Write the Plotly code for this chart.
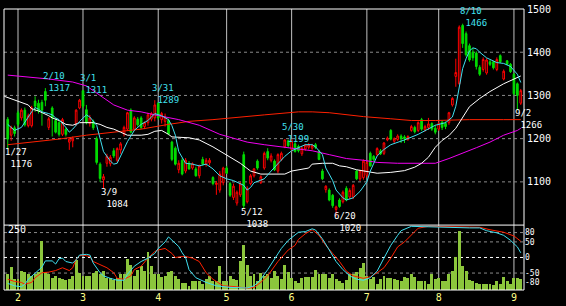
import plotly.graph_objects as go

# ---------------- data ----------------
opens = [1245,1208,1225,1260,1248,1266,1230,1230,1287,1282,1284,1309,1226,1271,1242,1237,1210,1222,1192,1195,1233,1271,1311,
         1267,1235,1240,1200,1141,1105,1143,1142,1172,1150,1174,1211,1222,1266,1222,1245,1248,1228,1237,1245,1248,
         1282,1244,1240,1242,1192,1178,1128,1150,1125,1143,1132,1130,1114,1152,1141,1144,1110,1094,1081,1098,
         1132,1096,1064,1051,1070,1163,1054,1096,1114,1148,1098,1132,1170,1150,1148,1125,1152,1181,1195,
         1175,1188,1182,1165,1176,1180,1178,1186,1170,1125,1082,1081,1069,1036,1058,1054,1085,1065,1065,1125,1107,1110,
         1115,1166,1159,1163,1172,1166,1197,1219,1194,1198,1206,1204,1198,1219,1226,1219,1244,1220,1226,1235,1224,
         1222,1238,1235,1237,1278,1344,1327,1462,1443,1415,1400,1398,1365,1360,1352,1378,1378,1360,1392,1338,1380,1372,
         1349,1327,1282]
highs = [1250,1230,1230,1265,1270,1272,1258,1276,1298,1290,1290,1317,1250,1275,1248,1240,1248,1226,1203,1205,1268,1292,1311,
         1278,1255,1244,1205,1145,1118,1165,1162,1178,1180,1192,1230,1262,1270,1252,1250,1252,1240,1260,1262,1289,
         1285,1262,1258,1246,1195,1182,1150,1155,1155,1148,1145,1135,1140,1158,1155,1155,1113,1102,1125,1135,
         1137,1100,1096,1080,1100,1170,1090,1118,1132,1152,1115,1170,1178,1166,1152,1166,1170,1199,1198,
         1199,1192,1186,1182,1188,1190,1188,1190,1174,1130,1092,1085,1072,1045,1062,1080,1090,1085,1095,1128,1128,1152,
         1150,1170,1162,1180,1176,1192,1205,1222,1203,1210,1210,1208,1208,1232,1230,1240,1248,1232,1248,1238,1232,
         1240,1242,1240,1262,1296,1385,1462,1466,1448,1420,1410,1402,1370,1388,1386,1382,1380,1388,1395,1360,1382,1375,
         1352,1330,1315]
lows = [1176,1195,1205,1228,1242,1228,1226,1226,1262,1258,1230,1275,1220,1205,1212,1205,1206,1205,1174,1180,1230,1268,1270,
        1233,1228,1220,1140,1100,1084,1135,1136,1155,1145,1165,1205,1218,1212,1218,1228,1222,1222,1230,1240,1240,
        1244,1235,1228,1208,1148,1138,1120,1115,1120,1128,1128,1112,1108,1138,1135,1138,1092,1070,1075,1092,
        1118,1065,1058,1045,1065,1038,1050,1092,1110,1128,1095,1128,1150,1145,1125,1120,1148,1178,1180,
        1170,1168,1168,1160,1172,1175,1174,1176,1150,1104,1075,1055,1040,1020,1040,1050,1055,1060,1060,1104,1102,1105,
        1110,1135,1148,1160,1162,1162,1194,1196,1190,1195,1190,1190,1195,1216,1212,1215,1218,1216,1220,1218,1210,
        1218,1220,1222,1232,1274,1320,1325,1410,1390,1378,1380,1360,1345,1355,1348,1368,1360,1356,1375,1335,1370,1352,
        1300,1266,1278]
closes = [1199,1226,1212,1233,1266,1232,1253,1271,1275,1264,1266,1289,1246,1248,1215,1210,1244,1210,1199,1201,1266,1289,1275,
          1237,1248,1225,1145,1108,1112,1159,1157,1160,1177,1188,1226,1260,1215,1248,1232,1226,1237,1255,1258,1278,
          1248,1258,1250,1211,1152,1141,1143,1118,1150,1130,1142,1114,1137,1141,1150,1150,1096,1097,1118,1132,
          1120,1069,1090,1076,1095,1045,1085,1114,1130,1132,1112,1166,1155,1160,1128,1163,1166,1197,1184,
          1195,1170,1172,1178,1185,1186,1184,1180,1152,1107,1090,1058,1045,1042,1043,1076,1058,1080,1092,1107,1125,1148,
          1145,1137,1152,1177,1165,1190,1201,1199,1200,1206,1200,1200,1205,1228,1216,1237,1222,1228,1234,1222,1215,
          1235,1226,1228,1260,1293,1353,1458,1420,1394,1382,1387,1367,1349,1383,1382,1372,1364,1383,1378,1356,1372,1355,
          1304,1300,1311]
volume = [68,96,45,45,79,75,68,60,66,77,
          206,77,68,52,59,52,45,41,45,59,
          127,72,59,59,59,70,79,66,79,52,
          52,41,52,66,66,130,104,59,86,100,
          79,158,100,66,66,56,59,77,79,59,
          45,31,31,18,36,36,36,27,45,59,
          38,38,100,36,38,59,45,41,123,189,
          104,59,68,36,72,59,66,52,79,59,
          45,104,77,52,38,31,49,55,55,55,
          82,66,66,66,52,66,45,38,31,41,
          66,66,77,93,113,59,45,55,25,45,
          59,52,49,45,41,38,55,52,66,55,
          36,36,36,25,66,45,52,38,36,68,
          79,137,250,100,79,41,36,31,25,27,
          25,27,22,36,25,55,36,25,49,49,45]

# moving averages (index, price)
ma_short_x = [0,2,4,5,6,7,8,9,10,12,13,14,15,17,18,19,20,21,23,24,26,27,28,30,31,32,33,35,37,39,41,43,45,47,48,49,50,52,
              54,56,58,60,62,64,66,68,69,70,71,72,74,75,77,79,81,83,85,87,89,90,92,93,95,96,98,99,101,103,105,106,108,
              110,112,116,120,124,125,128,130,131,132,133,134,135,136,137,138,140,143,145,147,149,150]
ma_short = [1233,1219,1226,1237,1250,1262,1272,1268,1262,1258,1255,1248,1244,1226,1215,1222,1231,1240,1255,1250,1231,1199,
            1170,1148,1141,1143,1159,1193,1219,1233,1242,1258,1253,1244,1230,1208,1170,1143,1141,1137,1141,1130,1114,1107,
            1103,1096,1092,1081,1087,1098,1103,1107,1125,1143,1159,1172,1179,1186,1186,1181,1163,1132,1103,1081,1063,1058,
            1063,1078,1100,1125,1160,1175,1186,1197,1210,1226,1231,1237,1250,1275,1320,1362,1385,1403,1410,1408,1400,1387,
            1376,1374,1367,1349,1330]
ma_mid_x = [-1,0,3,6,7,9,12,13,15,17,19,21,25,27,29,31,33,35,39,41,43,45,47,48,53,56,60,64,68,71,74,81,83,88,89,92,95,97,
            99,102,105,108,112,116,119,121,123,125,127,129,131,133,135,138,141,145,148,150]
ma_mid = [1298,1295,1286,1278,1269,1264,1253,1248,1242,1233,1231,1237,1237,1233,1226,1222,1215,1208,1208,1210,1217,1219,1210,
          1204,1202,1197,1181,1163,1143,1125,1118,1118,1125,1132,1141,1143,1143,1137,1135,1128,1124,1120,1122,1126,1134,1143,
          1157,1180,1196,1207,1224,1250,1274,1293,1309,1327,1338,1345]
ma_long_x = [0,6,12,19,23,27,31,35,39,43,47,50,56,62,66,70,75,80,85,89,94,99,104,108,114,125,129,133,137,141,145,149,150]
ma_long = [1347,1343,1338,1331,1322,1300,1278,1266,1262,1255,1248,1244,1231,1210,1201,1192,1186,1181,1177,1172,1163,1154,
           1150,1145,1143,1143,1154,1166,1179,1192,1208,1219,1224]
ma_slow_x = [0,7,15,23,31,39,47,53,60,65,75,85,89,94,99,104,112,118,125,135,145,150]
ma_slow = [1186,1192,1199,1208,1215,1222,1233,1240,1244,1248,1255,1262,1262,1260,1255,1251,1246,1242,1242,1244,1244,1244]

# oscillator lines in lower panel (index, value)
osc_a_x = [0,2,4,5,6,8,10,11,13,14,15,16,17,19,20,21,23,24,25,27,28,30,32,34,35,37,39,41,43,44,46,47,48,50,51,52,53,55,
           58,61,65,70,72,74,76,78,80,82,84,85,87,89,90,92,94,96,98,100,102,104,106,108,110,112,114,115,118,125,135,138,
           140,143,145,147,149,150]
osc_a = [-83,-91,-94,-86,-70,-49,-31,-11,-11,-21,-4,-2,-13,-18,-7,8,10,8,-18,-49,-59,-67,-73,-73,-54,-28,-13,-2,13,29,50,
         66,55,35,15,0,-39,-65,-80,-91,-96,-98,-91,-70,-39,-7,29,55,71,81,83,92,88,60,24,-13,-39,-59,-70,-73,-65,-44,-2,
         39,71,86,100,97,95,95,86,79,71,55,34,15]
osc_b_x = [0,2,4,5,7,8,10,12,14,16,18,19,20,21,22,24,25,27,29,31,32,34,36,37,39,41,43,44,46,48,49,51,52,54,56,58,60,63,
           67,70,72,74,76,79,82,84,85,87,89,91,93,95,97,99,101,104,106,108,110,112,114,116,118,120,123,138,141,145,148,150]
osc_b = [-70,-77,-80,-86,-80,-65,-49,-47,-42,-33,-42,-33,-5,5,8,3,-13,-23,-33,-49,-67,-70,-59,-39,-28,-2,19,24,29,13,0,3,
         3,-2,-13,-49,-70,-91,-94,-99,-96,-80,-59,-13,24,39,58,76,89,71,39,13,-13,-44,-59,-67,-62,-49,-33,-2,34,50,71,94,
         100,97,89,81,69,52]

month_idx = [3, 22, 44, 64, 83, 105, 126, 148]
month_lbl = ['2', '3', '4', '5', '6', '7', '8', '9']
price_ticks = [1100, 1200, 1300, 1400, 1500]
osc_ticks = [80, 50, 0, -50, -80]
vol_label = 250

# extreme-point labels: index, price, date, kind
ext_idx = [0, 11, 22, 28, 43, 69, 81, 96, 133, 149]
ext_price = [1176, 1317, 1311, 1084, 1289, 1038, 1199, 1020, 1466, 1266]
ext_date = ['1/27', '2/10', '3/1', '3/9', '3/31', '5/12', '5/30', '6/20', '8/10', '9/2']
ext_kind = ['low', 'high', 'high', 'low', 'high', 'low', 'high', 'low', 'high', 'low']

# ---------------- figure ----------------
N = len(closes)
idx = list(range(N))
FONT = 'DejaVu Sans Mono'
CYAN = '#40e0f0'
D = 67 / 290.0

fig = go.Figure()

fig.add_trace(go.Bar(x=idx, y=volume, width=0.86, marker=dict(color='#8cc63c', line=dict(width=0)),
                     xaxis='x', yaxis='y2', hoverinfo='skip'))
fig.add_trace(go.Scatter(x=osc_b_x, y=osc_b, mode='lines', line=dict(color='#ff2000', width=1),
                         xaxis='x', yaxis='y3', hoverinfo='skip'))
fig.add_trace(go.Scatter(x=osc_a_x, y=osc_a, mode='lines', line=dict(color=CYAN, width=1),
                         xaxis='x', yaxis='y3', hoverinfo='skip'))

for xs, ys, col in [(ma_slow_x, ma_slow, '#ff2000'), (ma_long_x, ma_long, '#f000f0'),
                    (ma_mid_x, ma_mid, '#ffffff'), (ma_short_x, ma_short, CYAN)]:
    fig.add_trace(go.Scatter(x=xs, y=ys, mode='lines', line=dict(color=col, width=1),
                             xaxis='x', yaxis='y', hoverinfo='skip'))

fig.add_trace(go.Candlestick(x=idx, open=opens, high=highs, low=lows, close=closes,
                             increasing=dict(line=dict(color='#ff0000', width=1), fillcolor='#000000'),
                             decreasing=dict(line=dict(color='#00dc00', width=1), fillcolor='#00dc00'),
                             whiskerwidth=0, xaxis='x', yaxis='y', hoverinfo='skip'))

shapes = []
for m in month_idx:
    shapes.append(dict(type='line', xref='x', yref='paper', x0=m, x1=m, y0=0, y1=1,
                       line=dict(color='#c0c0c0', width=1), layer='below'))
for p in price_ticks[:-1]:
    shapes.append(dict(type='line', xref='paper', yref='y', x0=0, x1=1, y0=p, y1=p,
                       line=dict(color='#8a8a8a', width=1, dash='3px,3px'), layer='below'))
for v in [80, 50, -50]:
    shapes.append(dict(type='line', xref='paper', yref='y3', x0=0, x1=1, y0=v, y1=v,
                       line=dict(color='#8a8a8a', width=1, dash='3px,3px'), layer='below'))
shapes.append(dict(type='line', xref='paper', yref='y3', x0=0, x1=1, y0=0, y1=0,
                   line=dict(color='#ffffff', width=1, dash='3px,3px'), layer='below'))
for (x0, y0, x1, y1) in [(0, 1, 1, 1), (0, 0, 1, 0), (0, D, 1, D), (0, 0, 0, 1), (1, 0, 1, 1)]:
    shapes.append(dict(type='line', xref='paper', yref='paper', x0=x0, x1=x1, y0=y0, y1=y1,
                       line=dict(color='#ffffff', width=1), layer='above'))

annotations = []
for i, p, dt, kind in zip(ext_idx, ext_price, ext_date, ext_kind):
    col = CYAN if kind == 'high' else '#ffffff'
    y_px = 3 + (1500 - p) * 223 / 500.0
    if kind == 'high':
        center = y_px - 6.5
    else:
        center = min(y_px + 9.0, 222.5)
    annotations.append(dict(x=i, y=p, xref='x', yref='y', text=dt + '<br>\u00a0' + str(p), showarrow=False,
                            xanchor='left', yanchor='middle', align='left', xshift=-3.5, yshift=y_px - center,
                            borderpad=0, font=dict(family=FONT, size=9, color=col)))
annotations.append(dict(x=0, y=vol_label, xref='paper', yref='y2', text=str(vol_label), showarrow=False,
                        xanchor='left', yanchor='middle', xshift=2, yshift=1,
                        font=dict(family=FONT, size=10, color='#ffffff')))

fig.update_layout(
    width=566, height=306,
    margin=dict(l=4, r=42, t=3, b=13),
    paper_bgcolor='#000000', plot_bgcolor='#000000',
    showlegend=False, hovermode=False, bargap=0,
    font=dict(family=FONT, size=10, color='#ffffff'),
    xaxis=dict(range=[-1.094, 150.94], domain=[0, 1], anchor='y2',
               tickmode='array', tickvals=month_idx, ticktext=month_lbl,
               tickfont=dict(color='#ffff88', size=10, family=FONT),
               showgrid=False, zeroline=False, showline=False, ticks='',
               rangeslider=dict(visible=False), fixedrange=True),
    yaxis=dict(domain=[D, 1], range=[1000, 1500], side='right', anchor='x',
               tickmode='array', tickvals=price_ticks, ticktext=[str(t) for t in price_ticks],
               tickfont=dict(color='#ffffff', size=10, family=FONT), ticklabeloverflow='allow',
               ticklabelstandoff=2,
               showgrid=False, zeroline=False, showline=False, ticks=''),
    yaxis2=dict(domain=[0, D], range=[0, 273], anchor='x', showticklabels=False,
                showgrid=False, zeroline=False, showline=False, ticks=''),
    yaxis3=dict(overlaying='y2', range=[-104.4, 104], side='right', anchor='x',
                tickmode='array', tickvals=osc_ticks, ticktext=[str(t) for t in osc_ticks],
                tickfont=dict(color='#ffffff', size=8, family=FONT), ticklabeloverflow='allow',
                showgrid=False, zeroline=False, showline=False, ticks=''),
    shapes=shapes, annotations=annotations,
)

fig.write_html("out.html", config={'displayModeBar': False, 'staticPlot': True})
